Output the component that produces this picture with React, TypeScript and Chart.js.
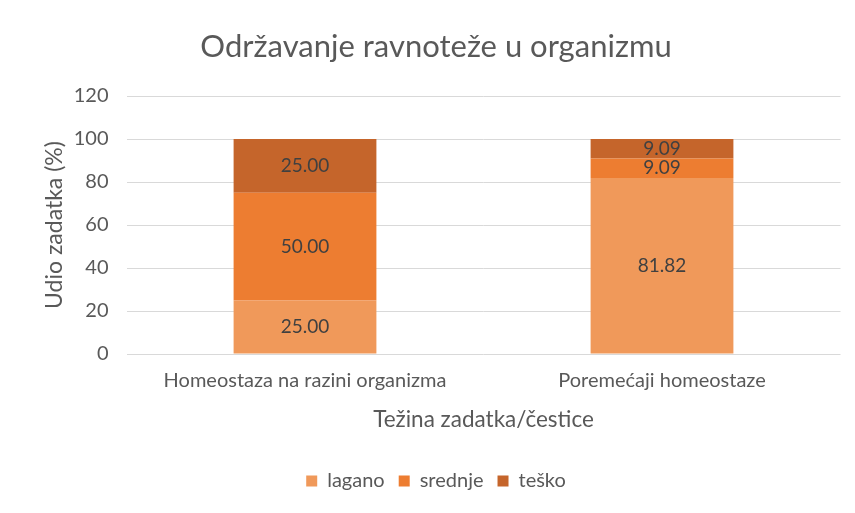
import React, { useEffect, useRef } from "react";
import { Chart, registerables } from "chart.js";

Chart.register(...registerables);

const categories = ["Homeostaza na razini organizma", "Poremećaji homeostaze"];
const lagano = [25.0, 81.82];
const srednje = [50.0, 9.09];
const tesko = [25.0, 9.09];
const seriesNames = ["lagano", "srednje", "teško"];
const seriesColors = ["#F0995A", "#ED7D31", "#C5652B"];
const yTicks = [0, 20, 40, 60, 80, 100, 120];

const FONT = "Lato, 'Open Sans', sans-serif";

const labelPlugin = {
  id: "barLabels",
  afterDatasetsDraw(chart: any) {
    const ctx = chart.ctx;
    ctx.save();
    ctx.font = `19px ${FONT}`;
    ctx.fillStyle = "#404040";
    ctx.textAlign = "center";
    ctx.textBaseline = "middle";
    chart.data.datasets.forEach((ds: any, i: number) => {
      const meta = chart.getDatasetMeta(i);
      meta.data.forEach((el: any, j: number) => {
        const v = ds.data[j];
        const y = (el.y + el.base) / 2;
        ctx.fillText(Number(v).toFixed(2), el.x, y);
      });
    });
    ctx.restore();
  },
};

export default function App() {
  const ref = useRef<HTMLCanvasElement>(null);
  useEffect(() => {
    if (!ref.current) return;
    const chart = new Chart(ref.current, {
      type: "bar",
      data: {
        labels: categories,
        datasets: [lagano, srednje, tesko].map((d, i) => ({
          label: seriesNames[i],
          data: d,
          backgroundColor: seriesColors[i],
          borderWidth: 0,
          barPercentage: 1,
          categoryPercentage: 0.4,
        })),
      },
      options: {
        animation: false,
        responsive: false,
        maintainAspectRatio: false,
        layout: { padding: { left: 23.5, right: 13.5, bottom: 12, top: 0 } },
        plugins: {
          title: {
            display: true,
            text: "Održavanje ravnoteže u organizmu",
            color: "#595959",
            font: { family: FONT, size: 31, weight: "normal" },
            padding: { top: 20.4, bottom: 30.4 },
          },
          legend: {
            position: "bottom",
            labels: {
              color: "#595959",
              font: { family: FONT, size: 20 },
              boxWidth: 11,
              boxHeight: 11,
              padding: 14,
            },
          },
          tooltip: { enabled: false },
        },
        scales: {
          x: {
            stacked: true,
            grid: { display: false, drawTicks: false },
            border: { display: false },
            ticks: { color: "#595959", font: { family: FONT, size: 20 }, padding: 15 },
            title: {
              display: true,
              text: "Težina zadatka/čestice",
              color: "#595959",
              font: { family: FONT, size: 22.5 },
              padding: { top: 13.5, bottom: 23.5 },
            },
            afterFit: (axis: any) => {
              axis.height = 103;
            },
          },
          y: {
            stacked: true,
            min: 0,
            max: 120,
            afterBuildTicks: (axis: any) => {
              axis.ticks = yTicks.map((v) => ({ value: v }));
            },
            grid: { color: "#D9D9D9", drawTicks: false, lineWidth: 1 },
            border: { display: false },
            ticks: { color: "#595959", font: { family: FONT, size: 20 }, padding: 18 },
            title: {
              display: true,
              text: "Udio zadatka (%)",
              color: "#595959",
              font: { family: FONT, size: 23 },
              padding: { top: 9.7, bottom: 0 },
            },
            afterFit: (axis: any) => {
              axis.width = 95;
            },
          },
        },
      },
      plugins: [labelPlugin],
    });
    return () => chart.destroy();
  }, []);
  return (
    <div
      style={{
        position: "relative",
        marginLeft: -1,
        marginTop: -1,
        width: 847,
        height: 506,
        borderLeft: "1px solid #D9D9D9",
        borderTop: "1px solid #D9D9D9",
        boxSizing: "border-box",
        background: "#fff",
      }}
    >
      <canvas ref={ref} width={846} height={505} style={{ display: "block" }} />
    </div>
  );
}
